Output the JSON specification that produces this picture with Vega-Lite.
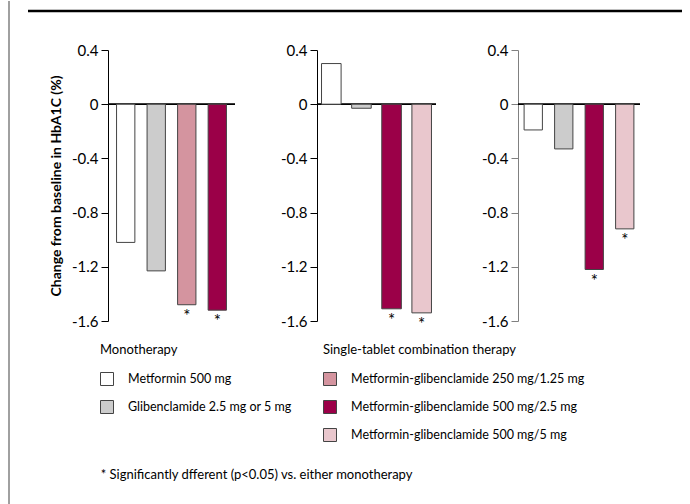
{
  "$schema": "https://vega.github.io/schema/vega-lite/v6.json",
  "padding": {"left": 8, "top": 0, "right": 0, "bottom": 0},
  "autosize": {"type": "pad"},
  "background": "white",
  "data": {"values": [
    {"panel": "p1", "treatment": "Metformin 500 mg", "group": "mono", "value": -1.02, "sig": false},
    {"panel": "p1", "treatment": "Glibenclamide 2.5 mg or 5 mg", "group": "mono", "value": -1.23, "sig": false},
    {"panel": "p1", "treatment": "Metformin-glibenclamide 250 mg/1.25 mg", "group": "combo", "value": -1.48, "sig": true},
    {"panel": "p1", "treatment": "Metformin-glibenclamide 500 mg/2.5 mg", "group": "combo", "value": -1.52, "sig": true},
    {"panel": "p2", "treatment": "Metformin 500 mg", "group": "mono", "value": 0.30, "sig": false},
    {"panel": "p2", "treatment": "Glibenclamide 2.5 mg or 5 mg", "group": "mono", "value": -0.03, "sig": false},
    {"panel": "p2", "treatment": "Metformin-glibenclamide 500 mg/2.5 mg", "group": "combo", "value": -1.51, "sig": true},
    {"panel": "p2", "treatment": "Metformin-glibenclamide 500 mg/5 mg", "group": "combo", "value": -1.54, "sig": true},
    {"panel": "p3", "treatment": "Metformin 500 mg", "group": "mono", "value": -0.19, "sig": false},
    {"panel": "p3", "treatment": "Glibenclamide 2.5 mg or 5 mg", "group": "mono", "value": -0.33, "sig": false},
    {"panel": "p3", "treatment": "Metformin-glibenclamide 500 mg/2.5 mg", "group": "combo", "value": -1.22, "sig": true},
    {"panel": "p3", "treatment": "Metformin-glibenclamide 500 mg/5 mg", "group": "combo", "value": -0.92, "sig": true}
  ]},
  "spacing": 16,
  "hconcat": [
    {
      "width": 1, "height": 504,
      "data": {"values": [{"a": 1}]},
      "mark": {"type": "rule", "color": "#808080", "strokeWidth": 1.5},
      "encoding": {"x": {"datum": 0, "type": "quantitative", "scale": {"domain": [0, 1]}, "axis": null}}
    },
    {
      "spacing": 30,
      "title": {"text": "* Significantly dfferent (p<0.05) vs. either monotherapy", "orient": "bottom", "anchor": "start", "offset": 136, "dx": 74, "fontSize": 13, "font": "Lato", "fontWeight": "normal", "color": "black"},
      "vconcat": [
        {
          "width": 654, "height": 10,
          "data": {"values": [{"a": 1}]},
          "mark": {"type": "rule", "color": "black", "strokeWidth": 2.5},
          "encoding": {"y": {"datum": 0, "type": "quantitative", "scale": {"domain": [0, 1]}, "axis": null}}
        },
        {
          "spacing": 44,
          "hconcat": [
            {
              "spacing": 0,
              "hconcat": [
                {
                  "width": 21, "height": 1,
                  "data": {"values": [{"a": 1}]},
                  "mark": {"type": "point", "opacity": 0},
                  "encoding": {}
                },
                {
                  "width": 127, "height": 271,
                  "transform": [{"filter": "datum.panel == 'p1'"}],
                  "layer": [
                    {"mark": {"type": "rule", "color": "black", "strokeWidth": 1}, "encoding": {"y": {"datum": 0, "type": "quantitative"}}},
                    {"transform": [{"filter": "datum.group == 'mono'"}],
                     "mark": {"type": "bar", "stroke": "#444", "strokeWidth": 1},
                     "encoding": {
                       "x": {"field": "treatment", "type": "nominal", "sort": ["Metformin 500 mg", "Glibenclamide 2.5 mg or 5 mg", "Metformin-glibenclamide 250 mg/1.25 mg", "Metformin-glibenclamide 500 mg/2.5 mg", "Metformin-glibenclamide 500 mg/5 mg"], "axis": null, "scale": {"paddingInner": 0.4, "paddingOuter": 0.28}},
                       "y": {"field": "value", "type": "quantitative", "scale": {"domain": [-1.6, 0.4], "nice": false}, "axis": {"values": [-1.6, -1.2, -0.8, -0.4, 0, 0.4], "labelExpr": "toString(datum.value)", "title": "Change from baseline in HbA1C (%)", "titlePadding": 8}},
                       "fill": {"field": "treatment", "type": "nominal", "scale": {"domain": ["Metformin 500 mg", "Glibenclamide 2.5 mg or 5 mg"], "range": ["#ffffff", "#cccccc"]}, "legend": {"title": "Monotherapy", "orient": "none", "legendX": 91, "legendY": 343, "direction": "vertical"}}
                     }},
                    {"transform": [{"filter": "datum.group == 'combo'"}],
                     "mark": {"type": "bar", "stroke": "#444", "strokeWidth": 1},
                     "encoding": {
                       "x": {"field": "treatment", "type": "nominal", "sort": ["Metformin 500 mg", "Glibenclamide 2.5 mg or 5 mg", "Metformin-glibenclamide 250 mg/1.25 mg", "Metformin-glibenclamide 500 mg/2.5 mg", "Metformin-glibenclamide 500 mg/5 mg"], "axis": null},
                       "y": {"field": "value", "type": "quantitative"},
                       "color": {"field": "treatment", "type": "nominal", "scale": {"domain": ["Metformin-glibenclamide 250 mg/1.25 mg", "Metformin-glibenclamide 500 mg/2.5 mg", "Metformin-glibenclamide 500 mg/5 mg"], "range": ["#d4949f", "#9b0048", "#e9c7cd"]}, "legend": {"title": "Single-tablet combination therapy", "orient": "none", "legendX": 314, "legendY": 343, "direction": "vertical"}}
                     }},
                    {"transform": [{"filter": "datum.sig"}],
                     "mark": {"type": "text", "text": "*", "baseline": "top", "dy": 4, "fontSize": 17, "font": "Lato", "color": "black", "fill": "black"},
                     "encoding": {
                       "x": {"field": "treatment", "type": "nominal", "sort": ["Metformin 500 mg", "Glibenclamide 2.5 mg or 5 mg", "Metformin-glibenclamide 250 mg/1.25 mg", "Metformin-glibenclamide 500 mg/2.5 mg", "Metformin-glibenclamide 500 mg/5 mg"], "axis": null},
                       "y": {"field": "value", "type": "quantitative"}
                     }}
                  ]
                }
              ]
            },
            {
              "width": 119, "height": 271,
              "transform": [{"filter": "datum.panel == 'p2'"}],
              "layer": [
                {"mark": {"type": "rule", "color": "black", "strokeWidth": 1}, "encoding": {"y": {"datum": 0, "type": "quantitative"}}},
                {"transform": [{"filter": "datum.group == 'mono'"}],
                 "mark": {"type": "bar", "stroke": "#444", "strokeWidth": 1},
                 "encoding": {
                   "x": {"field": "treatment", "type": "nominal", "sort": ["Metformin 500 mg", "Glibenclamide 2.5 mg or 5 mg", "Metformin-glibenclamide 250 mg/1.25 mg", "Metformin-glibenclamide 500 mg/2.5 mg", "Metformin-glibenclamide 500 mg/5 mg"], "axis": null, "scale": {"paddingInner": 0.35, "paddingOuter": 0.15}},
                   "y": {"field": "value", "type": "quantitative", "scale": {"domain": [-1.6, 0.4], "nice": false}, "axis": {"values": [-1.6, -1.2, -0.8, -0.4, 0, 0.4], "labelExpr": "toString(datum.value)", "title": null}},
                   "fill": {"field": "treatment", "type": "nominal", "scale": {"domain": ["Metformin 500 mg", "Glibenclamide 2.5 mg or 5 mg"], "range": ["#ffffff", "#cccccc"]}, "legend": {"title": "Monotherapy", "orient": "none", "legendX": 91, "legendY": 343, "direction": "vertical"}}
                 }},
                {"transform": [{"filter": "datum.group == 'combo'"}],
                 "mark": {"type": "bar", "stroke": "#444", "strokeWidth": 1},
                 "encoding": {
                   "x": {"field": "treatment", "type": "nominal", "sort": ["Metformin 500 mg", "Glibenclamide 2.5 mg or 5 mg", "Metformin-glibenclamide 250 mg/1.25 mg", "Metformin-glibenclamide 500 mg/2.5 mg", "Metformin-glibenclamide 500 mg/5 mg"], "axis": null},
                   "y": {"field": "value", "type": "quantitative"},
                   "color": {"field": "treatment", "type": "nominal", "scale": {"domain": ["Metformin-glibenclamide 250 mg/1.25 mg", "Metformin-glibenclamide 500 mg/2.5 mg", "Metformin-glibenclamide 500 mg/5 mg"], "range": ["#d4949f", "#9b0048", "#e9c7cd"]}, "legend": {"title": "Single-tablet combination therapy", "orient": "none", "legendX": 314, "legendY": 343, "direction": "vertical"}}
                 }},
                {"transform": [{"filter": "datum.sig"}],
                 "mark": {"type": "text", "text": "*", "baseline": "top", "dy": 4, "fontSize": 17, "font": "Lato", "color": "black", "fill": "black"},
                 "encoding": {
                   "x": {"field": "treatment", "type": "nominal", "sort": ["Metformin 500 mg", "Glibenclamide 2.5 mg or 5 mg", "Metformin-glibenclamide 250 mg/1.25 mg", "Metformin-glibenclamide 500 mg/2.5 mg", "Metformin-glibenclamide 500 mg/5 mg"], "axis": null},
                   "y": {"field": "value", "type": "quantitative"}
                 }}
              ]
            },
            {
              "width": 122, "height": 271,
              "transform": [{"filter": "datum.panel == 'p3'"}],
              "layer": [
                {"mark": {"type": "rule", "color": "black", "strokeWidth": 1}, "encoding": {"y": {"datum": 0, "type": "quantitative"}}},
                {"transform": [{"filter": "datum.group == 'mono'"}],
                 "mark": {"type": "bar", "stroke": "#444", "strokeWidth": 1},
                 "encoding": {
                   "x": {"field": "treatment", "type": "nominal", "sort": ["Metformin 500 mg", "Glibenclamide 2.5 mg or 5 mg", "Metformin-glibenclamide 250 mg/1.25 mg", "Metformin-glibenclamide 500 mg/2.5 mg", "Metformin-glibenclamide 500 mg/5 mg"], "axis": null, "scale": {"paddingInner": 0.4, "paddingOuter": 0.2}},
                   "y": {"field": "value", "type": "quantitative", "scale": {"domain": [-1.6, 0.4], "nice": false}, "axis": {"values": [-1.6, -1.2, -0.8, -0.4, 0, 0.4], "labelExpr": "toString(datum.value)", "title": null, "domainColor": "#808080", "tickColor": "#808080"}},
                   "fill": {"field": "treatment", "type": "nominal", "scale": {"domain": ["Metformin 500 mg", "Glibenclamide 2.5 mg or 5 mg"], "range": ["#ffffff", "#cccccc"]}, "legend": {"title": "Monotherapy", "orient": "none", "legendX": 91, "legendY": 343, "direction": "vertical"}}
                 }},
                {"transform": [{"filter": "datum.group == 'combo'"}],
                 "mark": {"type": "bar", "stroke": "#444", "strokeWidth": 1},
                 "encoding": {
                   "x": {"field": "treatment", "type": "nominal", "sort": ["Metformin 500 mg", "Glibenclamide 2.5 mg or 5 mg", "Metformin-glibenclamide 250 mg/1.25 mg", "Metformin-glibenclamide 500 mg/2.5 mg", "Metformin-glibenclamide 500 mg/5 mg"], "axis": null},
                   "y": {"field": "value", "type": "quantitative"},
                   "color": {"field": "treatment", "type": "nominal", "scale": {"domain": ["Metformin-glibenclamide 250 mg/1.25 mg", "Metformin-glibenclamide 500 mg/2.5 mg", "Metformin-glibenclamide 500 mg/5 mg"], "range": ["#d4949f", "#9b0048", "#e9c7cd"]}, "legend": {"title": "Single-tablet combination therapy", "orient": "none", "legendX": 314, "legendY": 343, "direction": "vertical"}}
                 }},
                {"transform": [{"filter": "datum.sig"}],
                 "mark": {"type": "text", "text": "*", "baseline": "top", "dy": 4, "fontSize": 17, "font": "Lato", "color": "black", "fill": "black"},
                 "encoding": {
                   "x": {"field": "treatment", "type": "nominal", "sort": ["Metformin 500 mg", "Glibenclamide 2.5 mg or 5 mg", "Metformin-glibenclamide 250 mg/1.25 mg", "Metformin-glibenclamide 500 mg/2.5 mg", "Metformin-glibenclamide 500 mg/5 mg"], "axis": null},
                   "y": {"field": "value", "type": "quantitative"}
                 }}
              ]
            }
          ]
        }
      ]
    }
  ],
  "config": {
    "view": {"stroke": null},
    "font": "Lato",
    "axis": {"domainColor": "black", "tickColor": "black", "labelFont": "Lato", "labelFontSize": 15, "labelColor": "black", "tickSize": 7, "labelPadding": 3, "grid": false, "titleFont": "Lato", "titleFontSize": 14, "titleFontWeight": "bold", "titleColor": "black"},
    "legend": {"titleFont": "Lato", "titleFontSize": 13, "titleFontWeight": "normal", "titleColor": "black", "titlePadding": 15, "titleLimit": 400, "labelFont": "Lato", "labelFontSize": 12.5, "labelColor": "black", "symbolType": "square", "symbolSize": 169, "symbolStrokeColor": "#444", "symbolStrokeWidth": 1, "rowPadding": 10, "labelOffset": 14, "labelLimit": 400}
  }
}
